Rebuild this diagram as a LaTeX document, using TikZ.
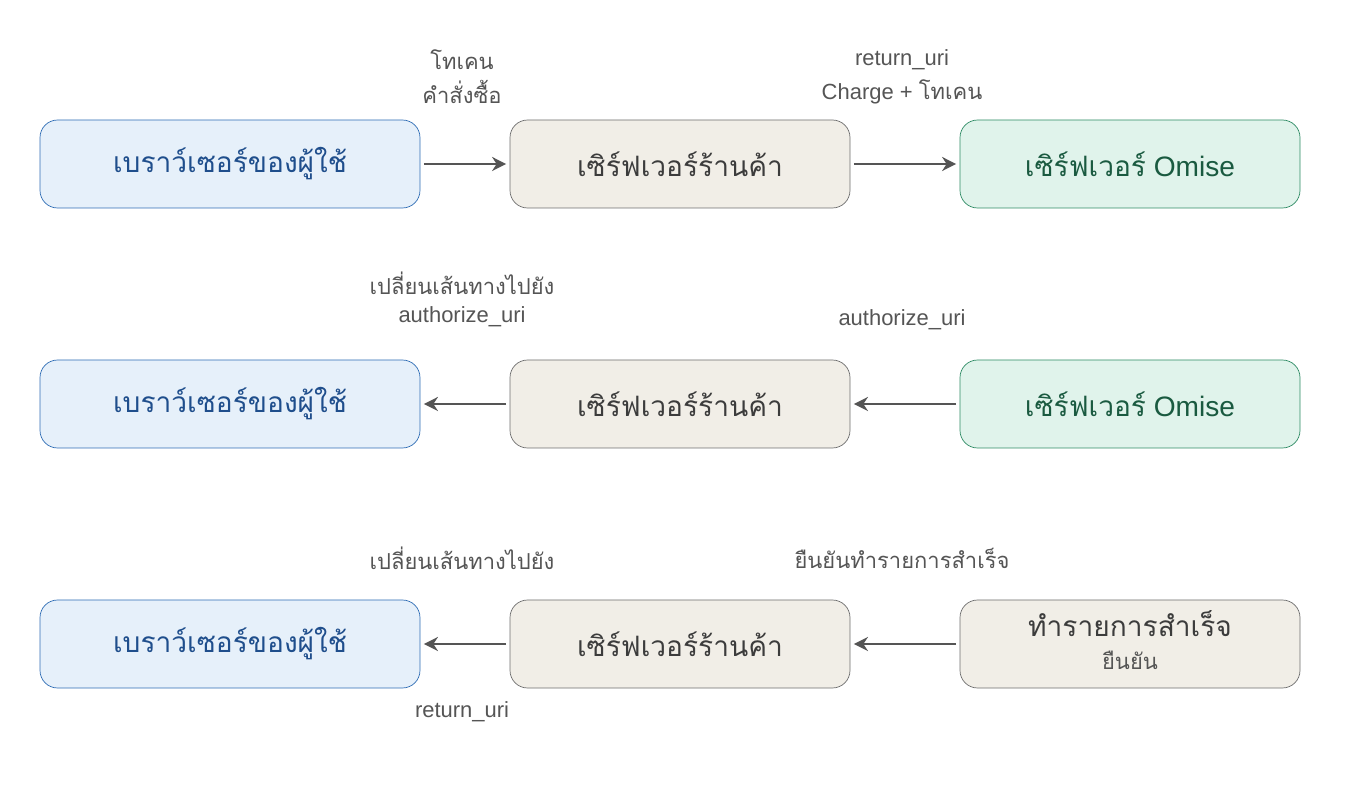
\documentclass[tikz,border=0pt]{standalone}
\usepackage{fontspec}
\setmainfont{Liberation Sans}
\newfontfamily\thaifont[Script=Thai]{Loma}
\usetikzlibrary{arrows.meta}
\definecolor{userfill}{HTML}{E6F0FA}
\definecolor{userdraw}{HTML}{2F6DB5}
\definecolor{usertext}{HTML}{1F4E8C}
\definecolor{shopfill}{HTML}{F1EEE7}
\definecolor{shopdraw}{HTML}{6E6E6E}
\definecolor{shoptext}{HTML}{3C3C3C}
\definecolor{omisefill}{HTML}{E0F3EB}
\definecolor{omisedraw}{HTML}{2E8B64}
\definecolor{omisetext}{HTML}{1A5A40}
\definecolor{labeltext}{HTML}{555555}
\tikzstyle{box}=[rounded corners=10pt,minimum width=380*0.02cm,minimum height=88*0.02cm,font=\fontsize{16}{18}\selectfont,inner sep=0pt]
\tikzstyle{user}=[box,fill=userfill,draw=userdraw,text=usertext]
\tikzstyle{shop}=[box,fill=shopfill,draw=shopdraw,text=shoptext,minimum width=340*0.02cm]
\tikzstyle{omise}=[box,fill=omisefill,draw=omisedraw,text=omisetext,minimum width=340*0.02cm]
\tikzstyle{flow}=[-{Stealth[length=8pt,width=8pt]},line width=1.4pt,draw=labeltext,shorten >=2pt,shorten <=2pt]
\tikzstyle{lbl}=[text=labeltext,font=\fontsize{12.5}{14}\selectfont,align=center]
\newcommand{\thtxt}[1]{{\thaifont #1}}
\newcommand{\drawrow}[2]{
  \node[user] (user#1) at (230,#2) {\thtxt{เบราว์เซอร์ของผู้ใช้}};
  \node[shop] (shop#1) at (680,#2) {\thtxt{เซิร์ฟเวอร์ร้านค้า}};
}
\begin{document}
\begin{tikzpicture}[x=0.02cm,y=-0.02cm]
  \useasboundingbox (0,0) rectangle (1360,800);
  % row 1
  \drawrow{1}{164}
  \node[omise] (omise1) at (1130,164) {\thtxt{เซิร์ฟเวอร์} Omise};
  \draw[flow] (user1) -- (shop1);
  \draw[flow] (shop1) -- (omise1);
  \node[lbl] (tok1) at (462,60) {\thtxt{โทเคน}};
  \node[lbl] (ord1) at (462,92) {\thtxt{คำสั่งซื้อ}};
  \node[lbl] (ret1) at (902,60) {return\_uri};
  \node[lbl] (chg1) at (902,92) {Charge + \thtxt{โทเคน}};
  % row 2
  \drawrow{2}{404}
  \node[omise] (omise2) at (1130,404) {\thtxt{เซิร์ฟเวอร์} Omise};
  \draw[flow] (omise2) -- (shop2);
  \draw[flow] (shop2) -- (user2);
  \node[lbl] (red2) at (462,283) {\thtxt{เปลี่ยนเส้นทางไปยัง}};
  \node[lbl] (auth2) at (462,317) {authorize\_uri};
  \node[lbl] (auth3) at (902,320) {authorize\_uri};
  % row 3
  \drawrow{3}{644}
  \node[shop] (done3) at (1130,644) {};
  \node[text=shoptext,font=\fontsize{16}{18}\selectfont] (donea) at (1130,624) {\thtxt{ทำรายการสำเร็จ}};
  \node[text=labeltext,font=\fontsize{12.5}{14}\selectfont] (doneb) at (1130,660) {\thtxt{ยืนยัน}};
  \draw[flow] (done3) -- (shop3);
  \draw[flow] (shop3) -- (user3);
  \node[lbl] (red3) at (462,558) {\thtxt{เปลี่ยนเส้นทางไปยัง}};
  \node[lbl] (ret3) at (462,712) {return\_uri};
  \node[lbl] (conf3) at (902,558) {\thtxt{ยืนยันทำรายการสำเร็จ}};
\end{tikzpicture}
\end{document}
